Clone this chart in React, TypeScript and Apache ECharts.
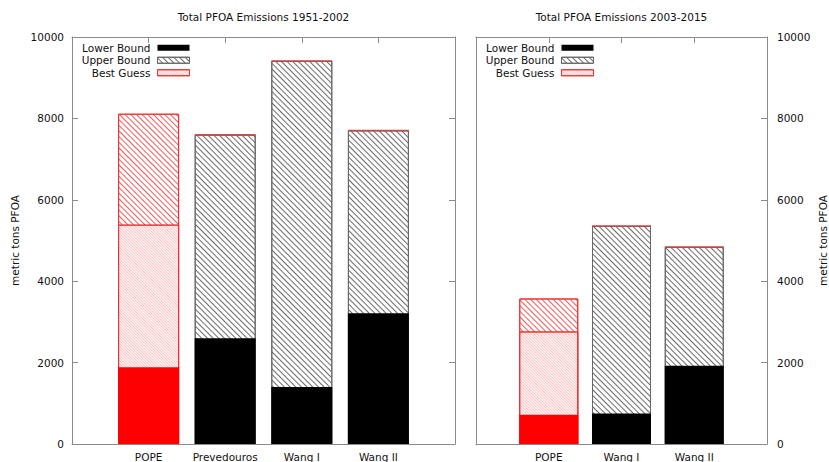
import { useEffect, useRef } from "react";
import * as echarts from "echarts";

const leftTitle = "Total PFOA Emissions 1951-2002";
const rightTitle = "Total PFOA Emissions 2003-2015";
const yAxisName = "metric tons PFOA";
const legendNames = ["Lower Bound", "Upper Bound", "Best Guess"];

const leftCategories = ["POPE", "Prevedouros", "Wang I", "Wang II"];
const leftLower = [1885, 2600, 1400, 3210];
const leftBest: (number | null)[] = [5390, null, null, null];
const leftUpper = [8115, 7600, 9415, 7705];

const rightCategories = ["POPE", "Wang I", "Wang II"];
const rightLower = [720, 750, 1925];
const rightBest: (number | null)[] = [2765, null, null];
const rightUpper = [3575, 5360, 4845];

const yMin = 0;
const yMax = 10000;
const yStep = 2000;

const FONT = "DejaVu Sans";
const FS = 10.5;
const TEXT = "#111";
const AXIS = "#8a8a8a";
const RED = "#ff0000";

const hatch = (color: string, gap: number, w = 1) => ({
  symbol: "rect",
  symbolSize: 1,
  dashArrayX: [1, 0],
  dashArrayY: [w, gap],
  rotation: Math.PI / 4,
  color,
});

const upperDecal = hatch("#6a6a6a", 2.6, 0.9);
const upperRedDecal = hatch("#f25a5a", 2.6, 0.9);
const bestDecal = hatch("rgba(255,60,60,0.32)", 0.9, 0.8);

function buildSeries(
  cats: string[],
  lower: number[],
  best: (number | null)[],
  upper: number[],
  gi: number,
  barWidth: number
) {
  const isPope = (i: number) => cats[i] === "POPE";
  const common = {
    type: "bar",
    xAxisIndex: gi * 2,
    yAxisIndex: gi * 2,
    barWidth,
    barGap: "-100%",
  };
  return [
    {
      ...common,
      name: "Upper Bound",
      itemStyle: { color: "#fff", borderColor: "#666", borderWidth: 1, decal: upperDecal },
      data: upper.map((v, i) => ({
        value: [i, v],
        itemStyle: isPope(i)
          ? { color: "#fff", borderColor: "#f03030", borderWidth: 1, decal: upperRedDecal }
          : undefined,
      })),
    },
    {
      ...common,
      name: "Best Guess",
      itemStyle: { color: "#fff", borderColor: "#f03030", borderWidth: 1, decal: bestDecal },
      data: best.map((v, i) => (v == null ? null : { value: [i, v] })),
    },
    {
      ...common,
      name: "Lower Bound",
      itemStyle: { color: "#000" },
      data: lower.map((v, i) => ({
        value: [i, v],
        itemStyle: isPope(i) ? { color: RED } : undefined,
      })),
    },
    {
      type: "scatter",
      name: "cap",
      xAxisIndex: gi * 2,
      yAxisIndex: gi * 2,
      symbol: "rect",
      symbolSize: [barWidth, 1.2],
      itemStyle: { color: "#f03030" },
      silent: true,
      data: upper.map((v, i) => (isPope(i) ? null : [i, v])),
    },
  ];
}

function xAxes(cats: string[], gi: number) {
  const base = {
    type: "value",
    gridIndex: gi,
    min: -1,
    max: cats.length,
    interval: 1,
    splitLine: { show: false },
    axisLine: { show: true, onZero: false, lineStyle: { color: AXIS, width: 1 } },
    axisTick: { show: true, inside: true, length: 6, lineStyle: { color: AXIS } },
  };
  return [
    {
      ...base,
      position: "bottom",
      axisLabel: {
        show: true,
        margin: 7,
        fontFamily: FONT,
        fontSize: FS,
        color: TEXT,
        formatter: (v: number) => cats[v] ?? "",
      },
    },
    { ...base, position: "top", axisLabel: { show: false } },
  ];
}

function yAxes(gi: number, labelSide: "left" | "right", mirrorTicks: boolean) {
  const base = {
    type: "value",
    gridIndex: gi,
    min: yMin,
    max: yMax,
    interval: yStep,
    splitLine: { show: false },
    axisLine: { show: true, onZero: false, lineStyle: { color: AXIS, width: 1 } },
  };
  const other = labelSide === "left" ? "right" : "left";
  return [
    {
      ...base,
      position: labelSide,
      axisTick: { show: true, inside: true, length: 6, lineStyle: { color: AXIS } },
      axisLabel: {
        show: true,
        margin: labelSide === "left" ? 8 : 10,
        fontFamily: FONT,
        fontSize: FS,
        color: TEXT,
        formatter: (v: number) => String(v),
      },
      name: yAxisName,
      nameLocation: "middle",
      nameRotate: 90,
      nameGap: labelSide === "left" ? 52 : 50,
      nameTextStyle: { fontFamily: FONT, fontSize: FS, color: TEXT },
    },
    {
      ...base,
      position: other,
      axisTick: { show: mirrorTicks, inside: true, length: 6, lineStyle: { color: AXIS } },
      axisLabel: { show: false },
    },
  ];
}

function legend(right: number) {
  return {
    data: legendNames,
    orient: "vertical",
    align: "right",
    right,
    top: 41.5,
    padding: 0,
    itemWidth: 32,
    itemHeight: 6,
    itemGap: 0,
    icon: "rect",
    selectedMode: false,
    itemStyle: { borderWidth: 1 },
    textStyle: {
      fontFamily: FONT,
      fontSize: FS,
      color: TEXT,
      lineHeight: 12.5,
      padding: [0, 2, 0, 0],
    },
  };
}

export default function App() {
  const ref = useRef<HTMLDivElement>(null);
  useEffect(() => {
    if (!ref.current) return;
    const chart = echarts.init(ref.current, null, { renderer: "svg" });
    chart.setOption({
      animation: false,
      backgroundColor: "#fff",
      textStyle: { fontFamily: FONT },
      title: [
        {
          text: leftTitle,
          left: 263.5,
          top: 11,
          textAlign: "center",
          padding: 0,
          textStyle: { fontFamily: FONT, fontSize: FS, fontWeight: "normal", color: TEXT },
        },
        {
          text: rightTitle,
          left: 621.5,
          top: 11,
          textAlign: "center",
          padding: 0,
          textStyle: { fontFamily: FONT, fontSize: FS, fontWeight: "normal", color: TEXT },
        },
      ],
      legend: [legend(639), legend(235)],
      grid: [
        { left: 72, top: 37, width: 383, height: 409.5 },
        { left: 476, top: 37, width: 291, height: 409.5 },
      ],
      xAxis: [...xAxes(leftCategories, 0), ...xAxes(rightCategories, 1)],
      yAxis: [...yAxes(0, "left", true), ...yAxes(1, "right", false)],
      series: [
        ...buildSeries(leftCategories, leftLower, leftBest, leftUpper, 0, 61),
        ...buildSeries(rightCategories, rightLower, rightBest, rightUpper, 1, 59),
      ],
    });
    return () => chart.dispose();
  }, []);
  return (
    <div
      ref={ref}
      style={{ position: "fixed", left: 0, top: 0, width: 829, height: 462 }}
    />
  );
}
